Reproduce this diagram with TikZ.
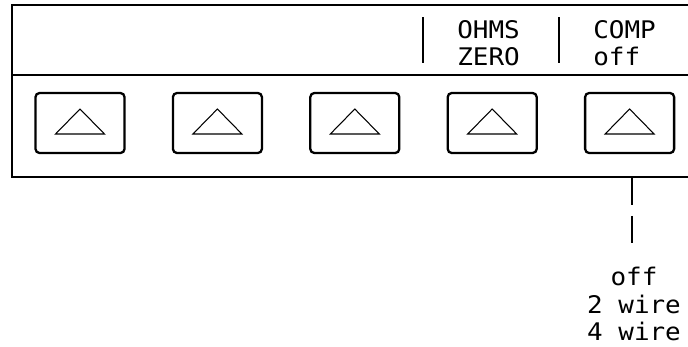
\documentclass[tikz,border=0pt]{standalone}
\usepackage{fontspec}
\newfontfamily\lcd[FakeStretch=1.07]{DejaVu Sans Mono}
\usetikzlibrary{positioning,calc}

\tikzset{
  panel/.style={line width=0.8pt},
  softkey/.style={draw,rectangle,rounded corners=2.3pt,line width=1.3pt,minimum width=89*0.02cm,minimum height=60*0.02cm,inner sep=0pt},
  keymark/.style={line width=0.6pt},
  divider/.style={line width=0.9pt},
  lcdtext/.style={font=\lcd\fontsize{13.8pt}{15.5pt}\selectfont,inner sep=0pt,align=left},
  leader/.style={line width=0.7pt,dash pattern=on 15.3pt off 6.2pt}
}

\begin{document}
\begin{tikzpicture}[x=0.02cm,y=-0.02cm]
\useasboundingbox (0,0) rectangle (688,346);

% panel outline
\draw[panel] (688,5) -- (12,5) -- (12,177) -- (688,177);
\draw[panel] (12,75) -- (688,75);

% soft keys
\foreach \i in {1,...,5}{
  \node[softkey] (key\i) at ({80+137.4*(\i-1)},123) {};
  \draw[keymark] ($(key\i.center)+(-24.5,11)$) -- ($(key\i.center)+(0,-14)$) -- ($(key\i.center)+(24.5,11)$) -- cycle;
}

% display labels
\draw[divider] (423,17) -- (423,63);
\draw[divider] (559,17) -- (559,63);
\node[lcdtext,anchor=north west] (ohms) at (457,20) {OHMS\\ZERO};
\node[lcdtext,anchor=north west] (comp) at (593,20) {COMP\\off};

% choices for COMP
\coordinate (lead) at (632,178);
\coordinate (leadend) at (632,243);
\node[lcdtext,align=center,anchor=north] (compopts) at (634,267) {off\\2 wire\\4 wire};
\draw[leader] (lead) -- (leadend);

\end{tikzpicture}
\end{document}
